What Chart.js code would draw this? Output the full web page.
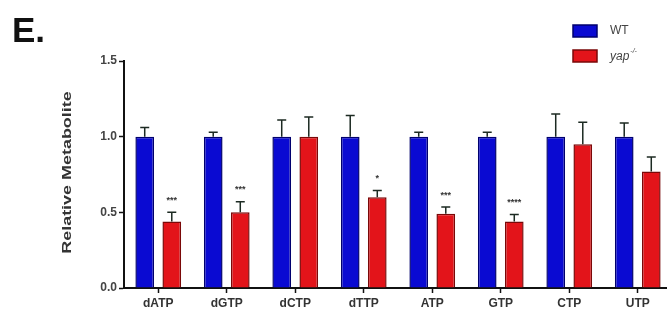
<!DOCTYPE html>
<html>
<head>
<meta charset="utf-8">
<title>Relative Metabolite</title>
<script src="https://cdn.jsdelivr.net/npm/chart.js@4/dist/chart.umd.min.js"></script>
<style>
  html, body { margin: 0; padding: 0; background: #fff; overflow: hidden; }
  #wrap { position: relative; width: 680px; height: 320px; }
</style>
</head>
<body>
<div id="wrap"><canvas id="c" width="680" height="320"></canvas></div>
<script>
// Nucleotide pools, normalised to wild type
const categories = ['dATP', 'dGTP', 'dCTP', 'dTTP', 'ATP', 'GTP', 'CTP', 'UTP'];
const wtMeans  = [1.00, 1.00, 1.00, 1.00, 1.00, 1.00, 1.00, 1.00];
const wtErr    = [0.06, 0.03, 0.11, 0.14, 0.03, 0.03, 0.15, 0.09];
const yapMeans = [0.44, 0.50, 1.00, 0.60, 0.49, 0.44, 0.95, 0.77];
const yapErr   = [0.06, 0.07, 0.13, 0.045, 0.045, 0.045, 0.145, 0.095];
const yapStars = ['***', '***', '', '*', '***', '****', '', ''];
const yTicks   = [0.0, 0.5, 1.0, 1.5];
const yTitle   = 'Relative Metabolite';

const errors = [wtErr, yapErr];
const stars  = [null, yapStars];
const FONT = '"Liberation Sans", Arial, sans-serif';

// Upper error bars and significance marks
const errorBarPlugin = {
  id: 'errorBars',
  afterDatasetsDraw(chart) {
    const ctx = chart.ctx;
    const y = chart.scales.y;
    chart.data.datasets.forEach((ds, di) => {
      const meta = chart.getDatasetMeta(di);
      meta.data.forEach((bar, i) => {
        const top = y.getPixelForValue(ds.data[i] + errors[di][i]);
        ctx.save();
        ctx.strokeStyle = '#1c2a22';
        ctx.lineWidth = 1.5;
        ctx.beginPath();
        ctx.moveTo(bar.x, bar.y);
        ctx.lineTo(bar.x, top);
        ctx.moveTo(bar.x - 4.5, top);
        ctx.lineTo(bar.x + 4.5, top);
        ctx.stroke();
        if (stars[di] && stars[di][i]) {
          ctx.fillStyle = '#333';
          ctx.font = 'bold 9px ' + FONT;
          ctx.textAlign = 'center';
          ctx.textBaseline = 'middle';
          ctx.fillText(stars[di][i], bar.x, top - 12);
        }
        ctx.restore();
      });
    });
  }
};

// Panel letter, axis title and legend
const decorPlugin = {
  id: 'decor',
  afterDraw(chart) {
    const ctx = chart.ctx;
    const area = chart.chartArea;
    ctx.save();
    ctx.fillStyle = '#111';
    ctx.font = 'bold 35px ' + FONT;
    ctx.textBaseline = 'alphabetic';
    ctx.textAlign = 'left';
    ctx.fillText('E.', 12, 42);

    // vertical axis title, drawn a little elongated along its length
    ctx.save();
    ctx.translate(67, (area.top + area.bottom) / 2 - 2);
    ctx.rotate(-Math.PI / 2);
    ctx.scale(1.38, 1);
    ctx.fillStyle = '#333';
    ctx.font = 'bold 13px ' + FONT;
    ctx.textAlign = 'center';
    ctx.textBaseline = 'middle';
    ctx.fillText(yTitle, 0, 0);
    ctx.restore();

    const items = [
      { fill: '#0a0ad2', stroke: '#00006e', y: 31 },
      { fill: '#e3141a', stroke: '#7a0808', y: 56 }
    ];
    items.forEach(it => {
      ctx.fillStyle = it.fill;
      ctx.strokeStyle = it.stroke;
      ctx.lineWidth = 1.5;
      ctx.fillRect(573, it.y - 6, 24, 12);
      ctx.strokeRect(573, it.y - 6, 24, 12);
    });
    ctx.fillStyle = '#444';
    ctx.textBaseline = 'middle';
    ctx.textAlign = 'left';
    ctx.font = '12px ' + FONT;
    ctx.fillText('WT', 610, 31);
    ctx.font = 'italic 12px ' + FONT;
    ctx.fillText('yap', 610, 57);
    const w = ctx.measureText('yap').width;
    ctx.font = 'italic 7px ' + FONT;
    ctx.fillText('-/-', 610 + w + 1, 51);
    ctx.restore();
  }
};

new Chart(document.getElementById('c'), {
  type: 'bar',
  data: {
    labels: categories,
    datasets: [
      {
        label: 'WT',
        data: wtMeans,
        backgroundColor: '#0a0ad2',
        borderColor: '#00006e',
        borderWidth: 1.5,
        barPercentage: 0.69,
        categoryPercentage: 0.79
      },
      {
        label: 'yap-/-',
        data: yapMeans,
        backgroundColor: '#e3141a',
        borderColor: '#7a0808',
        borderWidth: 1.5,
        barPercentage: 0.69,
        categoryPercentage: 0.79
      }
    ]
  },
  options: {
    responsive: false,
    animation: false,
    layout: { padding: { top: 61, right: 8, left: 0, bottom: 0 } },
    plugins: {
      legend: { display: false },
      tooltip: { enabled: false }
    },
    scales: {
      x: {
        grid: {
          display: true,
          drawOnChartArea: false,
          drawTicks: true,
          tickLength: 5,
          tickWidth: 1.5,
          tickColor: '#111',
          offset: false
        },
        border: { display: true, color: '#111', width: 2 },
        ticks: {
          color: '#333',
          padding: 3,
          font: { family: FONT, size: 12, weight: 'bold' }
        },
        afterFit(scale) { scale.height = 32; }
      },
      y: {
        min: 0,
        max: 1.5,
        afterBuildTicks(scale) { scale.ticks = yTicks.map(v => ({ value: v })); },
        grid: {
          display: true,
          drawOnChartArea: false,
          drawTicks: true,
          tickLength: 5,
          tickWidth: 1.5,
          tickColor: '#111'
        },
        border: { display: true, color: '#111', width: 2 },
        ticks: {
          color: '#444',
          padding: 2,
          callback: v => Number(v).toFixed(1),
          font: { family: FONT, size: 12, weight: 'bold' }
        },
        afterFit(scale) { scale.width = 124; }
      }
    }
  },
  plugins: [errorBarPlugin, decorPlugin]
});
</script>
</body>
</html>
